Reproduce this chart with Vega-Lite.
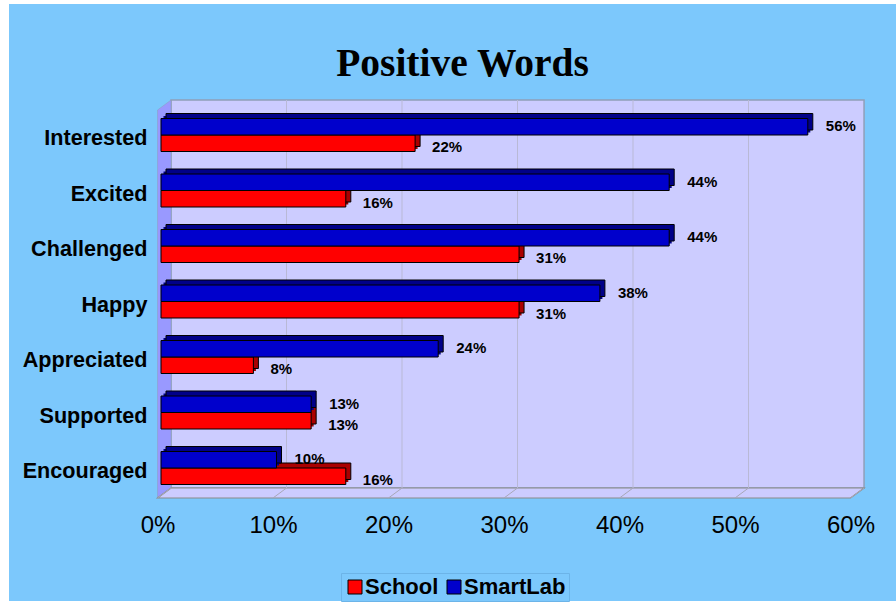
{
"$schema":"https://vega.github.io/schema/vega-lite/v6.json",
"width":707,"height":398,
"autosize":{"type":"none"},
"padding":{"left":157,"top":100,"right":32,"bottom":105},
"background":"#ffffff",
"view":{"stroke":null},
"title":{"text":"Positive Words","font":"Liberation Serif","fontWeight":"bold","fontSize":39.5,"color":"#000000","anchor":"middle","frame":"group","dx":-48,"offset":-80,"zindex":1},
"datasets":{
"scores":[
{"word":"Interested","series":"SmartLab","share":56,"label":"56%"},{"word":"Interested","series":"School","share":22,"label":"22%"},
{"word":"Excited","series":"SmartLab","share":44,"label":"44%"},{"word":"Excited","series":"School","share":16,"label":"16%"},
{"word":"Challenged","series":"SmartLab","share":44,"label":"44%"},{"word":"Challenged","series":"School","share":31,"label":"31%"},
{"word":"Happy","series":"SmartLab","share":38,"label":"38%"},{"word":"Happy","series":"School","share":31,"label":"31%"},
{"word":"Appreciated","series":"SmartLab","share":24,"label":"24%"},{"word":"Appreciated","series":"School","share":8,"label":"8%"},
{"word":"Supported","series":"SmartLab","share":13,"label":"13%"},{"word":"Supported","series":"School","share":13,"label":"13%"},
{"word":"Encouraged","series":"SmartLab","share":10,"label":"10%"},{"word":"Encouraged","series":"School","share":16,"label":"16%"}],
"gridlines":[{"pct":0},{"pct":10},{"pct":20},{"pct":30},{"pct":40},{"pct":50},{"pct":60}],
"side":[{"pct":-0.3,"low":0,"high":388},{"pct":0.87,"low":10,"high":398}],
"floor":[{"h":0,"from":-0.3,"to":59.7},{"h":10,"from":0.87,"to":60.87}],
"panel":[{"part":"panel"}]
},
"encoding":{},
"layer":[
{"layer":[
{"data":{"name":"panel"},"mark":{"type":"rect","fill":"#7cc8fc","clip":false},
 "encoding":{"x":{"datum":-13.16,"type":"quantitative","scale":{"domain":[0,60],"range":[4,697],"nice":false,"zero":false},"axis":{"title":null,"zindex":1,"values":[0,10,20,30,40,50,60],"format":".0f","labelExpr":"datum.label + '%'","grid":false,"domain":false,"ticks":false,"labelFont":"Liberation Sans","labelFontSize":24,"labelColor":"#000000","labelPadding":15,"labelOffset":-3.5,"labelFlush":false,"labelOverlap":false}},
 "x2":{"datum":63.64},
 "y":{"datum":494,"type":"quantitative","scale":{"domain":[0,398],"range":[398,0],"nice":false,"zero":false},"axis":null},"y2":{"datum":-103}}},
{"data":{"name":"panel"},"mark":{"type":"rect","fill":"#ccccff","stroke":"#8f9fb8","strokeWidth":1.5},
 "encoding":{"x":{"datum":0.87,"type":"quantitative"},"x2":{"datum":60.87},"y":{"datum":10,"type":"quantitative"},"y2":{"datum":398}}},
{"data":{"name":"side"},"mark":{"type":"area","fill":"#9999ff","stroke":"#8f9fb8","strokeWidth":0.5},
 "encoding":{"x":{"field":"pct","type":"quantitative"},"y":{"field":"low","type":"quantitative"},"y2":{"field":"high"}}},
{"data":{"name":"floor"},"mark":{"type":"area","orient":"horizontal","fill":"#ccccff","stroke":"#8a8a8a","strokeWidth":1.2},
 "encoding":{"y":{"field":"h","type":"quantitative"},"x":{"field":"from","type":"quantitative"},"x2":{"field":"to"}}},
{"data":{"name":"gridlines"},"transform":[{"filter":"datum.pct>0 && datum.pct<60"}],"mark":{"type":"rule","color":"#b9b9d6","strokeWidth":1,"xOffset":10,"x2Offset":10},
 "encoding":{"x":{"field":"pct","type":"quantitative"},"x2":{"field":"pct"},"y":{"datum":10,"type":"quantitative"},"y2":{"datum":398}}},
{"data":{"name":"gridlines"},"mark":{"type":"rule","color":"#a8a8b8","strokeWidth":1,"xOffset":-3.5,"x2Offset":10},
 "encoding":{"x":{"field":"pct","type":"quantitative"},"x2":{"field":"pct"},"y":{"datum":0,"type":"quantitative"},"y2":{"datum":10}}}
]},
{"data":{"name":"scores"},
 "encoding":{
 "y":{"field":"word","type":"nominal","sort":null,"scale":{"domain":["Interested","Excited","Challenged","Happy","Appreciated","Supported","Encouraged"],"range":[7.25,395.75],"paddingInner":0.405,"paddingOuter":0.2025},
  "axis":{"orient":"left","zindex":1,"title":null,"domain":false,"ticks":false,"labelFont":"Liberation Sans","labelFontWeight":"bold","labelFontSize":21.6,"labelColor":"#000000","labelPadding":10,"labelOffset":4}},
 "x":{"field":"share","type":"quantitative"}
 },
 "layer":[
 {"transform":[{"filter":"datum.series=='School'"}],"mark":{"type":"bar","size":16.5,"fill":"#990000","xOffset":2.5,"x2Offset":2.5,"yOffset":5.75}},
 {"transform":[{"filter":"datum.series=='School'"}],"mark":{"type":"bar","size":16.5,"fill":"#aa0000","stroke":"#000000","strokeWidth":1,"xOffset":5,"x2Offset":5,"yOffset":3.25}},
 {"transform":[{"filter":"datum.series=='School'"}],"mark":{"type":"bar","size":16.5,"yOffset":8.25,"stroke":"#000000","strokeWidth":1},
  "encoding":{"color":{"field":"series","type":"nominal","scale":{"domain":["School","SmartLab"],"range":["#ff0000","#0000cc"]},
   "legend":{"orient":"none","legendX":184,"legendY":473,"title":null,"direction":"horizontal","columns":2,"symbolType":"square","symbolSize":196,"symbolStrokeColor":"#000000","symbolStrokeWidth":1,"labelFont":"Liberation Sans","labelFontWeight":"bold","labelFontSize":22,"labelColor":"#000000","strokeColor":"#6cb4e8","padding":3,"columnPadding":4,"labelOffset":-1}}}},
 {"transform":[{"filter":"datum.series=='SmartLab'"}],"mark":{"type":"bar","size":16.5,"fill":"#000088","xOffset":2.5,"x2Offset":2.5,"yOffset":-10.75}},
 {"transform":[{"filter":"datum.series=='SmartLab'"}],"mark":{"type":"bar","size":16.5,"fill":"#000088","stroke":"#000000","strokeWidth":1,"xOffset":5,"x2Offset":5,"yOffset":-13.25}},
 {"transform":[{"filter":"datum.series=='SmartLab'"}],"mark":{"type":"bar","size":16.5,"yOffset":-8.25,"stroke":"#000000","strokeWidth":1},
  "encoding":{"color":{"field":"series","type":"nominal"}}},
 {"transform":[{"filter":"datum.series=='School'"}],"mark":{"type":"text","align":"left","baseline":"middle","dx":17,"dy":12,"font":"Liberation Sans","fontWeight":"bold","fontSize":15,"color":"#000000"},
  "encoding":{"text":{"field":"label","type":"nominal"}}},
 {"transform":[{"filter":"datum.series=='SmartLab'"}],"mark":{"type":"text","align":"left","baseline":"middle","dx":18,"dy":-9,"font":"Liberation Sans","fontWeight":"bold","fontSize":15,"color":"#000000"},
  "encoding":{"text":{"field":"label","type":"nominal"}}}
 ]}
],
"resolve":{"scale":{"y":"independent"}}
}
